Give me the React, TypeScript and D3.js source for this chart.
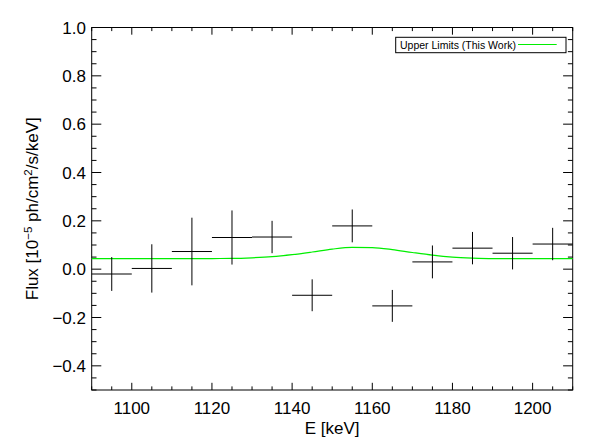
import * as d3 from "d3";

// bin centres [keV], measured flux and 1-sigma errors [1e-5 ph/cm2/s/keV]
const energies = [1095, 1105, 1115, 1125, 1135, 1145, 1155, 1165, 1175, 1185, 1195, 1205];
const flux = [-0.02, 0.003, 0.073, 0.131, 0.133, -0.108, 0.179, -0.152, 0.03, 0.087, 0.066, 0.104];
const fluxErr = [0.07, 0.1, 0.14, 0.112, 0.067, 0.066, 0.068, 0.066, 0.068, 0.067, 0.067, 0.067];
const binHalf = 5;

// upper limit curve
const ulEnergy = [1090, 1100, 1110, 1120, 1125, 1130, 1135, 1140, 1145, 1150, 1155, 1160, 1165, 1170, 1175, 1180, 1185, 1190, 1200, 1210];
const ulFlux = [0.044, 0.044, 0.044, 0.044, 0.0445, 0.047, 0.0515, 0.06, 0.071, 0.083, 0.09, 0.089, 0.081, 0.069, 0.058, 0.05, 0.046, 0.044, 0.044, 0.044];

const xTicks = [1100, 1120, 1140, 1160, 1180, 1200];
const yTicks = [-0.4, -0.2, 0.0, 0.2, 0.4, 0.6, 0.8, 1.0];

const W = 598;
const H = 446;
const left = 91.7, right = 572.7, top = 27.5, bottom = 390;
const font = "'Liberation Sans', Arial, Helvetica, sans-serif";

export default function App() {
  const x = d3.scaleLinear().domain([1090, 1210]).range([left, right]);
  const y = d3.scaleLinear().domain([-0.5, 1.0]).range([bottom, top]);

  const xMinor = d3.range(1090, 1211, 5);
  const yMinor = d3.range(-10, 21).map(i => i * 0.05);

  const xLen = 7.2, yLen = 9.6;

  const line = d3.line<number>()
    .x((d, i) => x(ulEnergy[i]))
    .y(d => y(d))
    .curve(d3.curveMonotoneX);

  const fmt = (v: number) => (v < 0 ? "\u2212" : "") + Math.abs(v).toFixed(1);

  return (
    <svg width={W} height={H} style={{ position: "absolute", left: 0, top: 0, background: "#fff" }}
      fontFamily={font}>
      {/* frame */}
      <rect x={left} y={top} width={right - left} height={bottom - top} fill="none" stroke="#000" strokeWidth={1} />

      {/* x ticks, bottom and top */}
      {xMinor.map(v => {
        const major = xTicks.includes(v);
        const l = major ? xLen : xLen / 2;
        return (
          <g key={"xt" + v} stroke="#000" strokeWidth={1}>
            <line x1={x(v)} x2={x(v)} y1={bottom} y2={bottom - l} />
            <line x1={x(v)} x2={x(v)} y1={top} y2={top + l} />
          </g>
        );
      })}
      {xTicks.map(v => (
        <text key={"xl" + v} x={x(v)} y={413.5} textAnchor="middle" fontSize={17} fill="#000">{v}</text>
      ))}

      {/* y ticks, left and right */}
      {yMinor.map((v, i) => {
        const major = i % 4 === 2;
        const l = major ? yLen : yLen / 2;
        return (
          <g key={"yt" + i} stroke="#000" strokeWidth={1}>
            <line x1={left} x2={left + l} y1={y(v)} y2={y(v)} />
            <line x1={right} x2={right - l} y1={y(v)} y2={y(v)} />
          </g>
        );
      })}
      {yTicks.map(v => (
        <text key={"yl" + v} x={86} y={y(v) + 6} textAnchor="end" fontSize={17} fill="#000">{fmt(v)}</text>
      ))}

      {/* axis titles */}
      <text x={(left + right) / 2} y={433.5} textAnchor="middle" fontSize={17} fill="#000">E [keV]</text>
      <text transform={`translate(38,${(top + bottom) / 2}) rotate(-90)`} textAnchor="middle" fontSize={17} fill="#000">
        Flux [10<tspan dy={-6} fontSize={11.5}>{"\u22125"}</tspan>
        <tspan dy={6}> ph/cm</tspan>
        <tspan dy={-6} fontSize={11.5}>2</tspan>
        <tspan dy={6}>/s/keV]</tspan>
      </text>

      {/* upper limit curve */}
      <path d={line(ulFlux) ?? ""} fill="none" stroke="#00ee00" strokeWidth={1.2} />

      {/* data crosses */}
      {energies.map((e, i) => (
        <g key={"d" + i} stroke="#000" strokeWidth={1}>
          <line x1={x(e - binHalf)} x2={x(e + binHalf)} y1={y(flux[i])} y2={y(flux[i])} />
          <line x1={x(e)} x2={x(e)} y1={y(flux[i] + fluxErr[i])} y2={y(flux[i] - fluxErr[i])} />
        </g>
      ))}

      {/* legend */}
      <rect x={395.7} y={37.3} width={170.3} height={15.4} fill="#fff" stroke="#000" strokeWidth={1} />
      <text x={400} y={49} fontSize={10.5} fill="#000">Upper Limits (This Work)</text>
      <line x1={518} x2={556.7} y1={44.5} y2={44.5} stroke="#00ee00" strokeWidth={1.2} />
    </svg>
  );
}
